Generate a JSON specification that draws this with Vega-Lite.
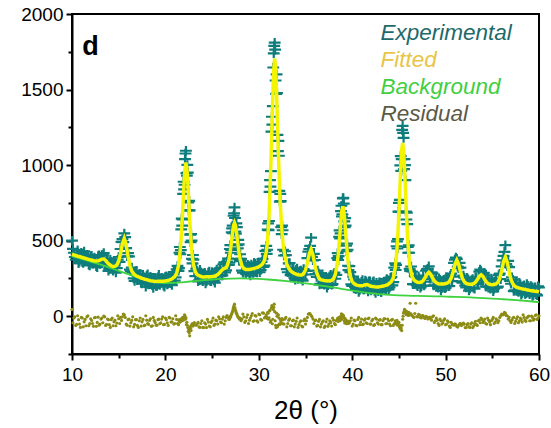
{
  "$schema": "https://vega.github.io/schema/vega-lite/v6.json",
  "width": 467,
  "height": 340,
  "autosize": {"type": "none"},
  "padding": {"left": 72, "top": 14, "right": 12, "bottom": 74},
  "background": "white",
  "config": {
    "view": {"stroke": "black", "strokeWidth": 2},
    "axis": {"domainColor": "black", "tickColor": "black", "labelColor": "black", "domainWidth": 2, "tickWidth": 2, "labelFont": "Liberation Sans", "titleFont": "Liberation Sans", "grid": false, "labelFlush": false}
  },
  "datasets": {
    "pattern": [
      {"x":10.0,"fit":410,"obs":500,"res":45},{"x":10.2,"fit":406,"obs":420,"res":-12},{"x":10.4,"fit":402,"obs":375,"res":-61},{"x":10.6,"fit":398,"obs":437,"res":3},{"x":10.8,"fit":395,"obs":361,"res":-52},
      {"x":11.0,"fit":391,"obs":420,"res":-8},{"x":11.2,"fit":387,"obs":352,"res":-70},{"x":11.4,"fit":384,"obs":401,"res":-21},{"x":11.6,"fit":380,"obs":407,"res":-4},{"x":11.8,"fit":376,"obs":340,"res":-63},
      {"x":12.0,"fit":373,"obs":398,"res":-17},{"x":12.2,"fit":369,"obs":347,"res":-48},{"x":12.4,"fit":367,"obs":389,"res":-10},{"x":12.6,"fit":366,"obs":330,"res":-67},{"x":12.8,"fit":367,"obs":398,"res":-6},
      {"x":13.0,"fit":371,"obs":345,"res":-52},{"x":13.2,"fit":378,"obs":405,"res":-12},{"x":13.4,"fit":379,"obs":418,"res":1},{"x":13.6,"fit":369,"obs":338,"res":-61},{"x":13.8,"fit":354,"obs":382,"res":-19},
      {"x":14.0,"fit":342,"obs":313,"res":-56},{"x":14.2,"fit":334,"obs":360,"res":-23},{"x":14.4,"fit":329,"obs":300,"res":-63},{"x":14.6,"fit":330,"obs":356,"res":-26},{"x":14.8,"fit":339,"obs":318,"res":-45},
      {"x":15.0,"fit":365,"obs":392,"res":-17},{"x":15.2,"fit":416,"obs":445,"res":-8},{"x":15.4,"fit":481,"obs":510,"res":-4},{"x":15.6,"fit":515,"obs":548,"res":10},{"x":15.8,"fit":472,"obs":450,"res":-52},
      {"x":16.0,"fit":397,"obs":418,"res":-23},{"x":16.2,"fit":336,"obs":308,"res":-65},{"x":16.4,"fit":299,"obs":322,"res":-28},{"x":16.6,"fit":281,"obs":250,"res":-70},{"x":16.8,"fit":270,"obs":296,"res":-23},
      {"x":17.0,"fit":263,"obs":238,"res":-61},{"x":17.2,"fit":258,"obs":280,"res":-30},{"x":17.4,"fit":253,"obs":226,"res":-65},{"x":17.6,"fit":249,"obs":275,"res":-21},{"x":17.8,"fit":245,"obs":218,"res":-59},
      {"x":18.0,"fit":242,"obs":268,"res":-26},{"x":18.2,"fit":238,"obs":210,"res":-54},{"x":18.4,"fit":235,"obs":262,"res":-17},{"x":18.6,"fit":233,"obs":205,"res":-63},{"x":18.8,"fit":231,"obs":254,"res":-28},
      {"x":19.0,"fit":230,"obs":200,"res":-59},{"x":19.2,"fit":231,"obs":258,"res":-23},{"x":19.4,"fit":231,"obs":206,"res":-50},{"x":19.6,"fit":231,"obs":255,"res":-19},{"x":19.8,"fit":232,"obs":204,"res":-56},
      {"x":20.0,"fit":234,"obs":262,"res":-12},{"x":20.2,"fit":236,"obs":210,"res":-43},{"x":20.4,"fit":239,"obs":265,"res":-8},{"x":20.6,"fit":244,"obs":218,"res":-39},{"x":20.8,"fit":252,"obs":280,"res":-17},
      {"x":21.0,"fit":262,"obs":235,"res":-48},{"x":21.2,"fit":283,"obs":310,"res":-21},{"x":21.4,"fit":334,"obs":300,"res":-56},{"x":21.5,"fit":382,"obs":420,"res":-22},{"x":21.6,"fit":445,"obs":410,"res":-35},
      {"x":21.7,"fit":531,"obs":575,"res":-18},{"x":21.8,"fit":641,"obs":600,"res":-30},{"x":21.9,"fit":758,"obs":810,"res":-12},{"x":22.0,"fit":883,"obs":840,"res":-5},{"x":22.1,"fit":977,"obs":1040,"res":2},
      {"x":22.2,"fit":1017,"obs":1095,"res":-10},{"x":22.3,"fit":978,"obs":930,"res":-40},{"x":22.4,"fit":885,"obs":950,"res":-75},{"x":22.5,"fit":761,"obs":700,"res":-90},{"x":22.6,"fit":645,"obs":700,"res":-130},
      {"x":22.7,"fit":535,"obs":490,"res":-80},{"x":22.8,"fit":451,"obs":500,"res":-60},{"x":22.9,"fit":388,"obs":350,"res":-55},{"x":23.0,"fit":343,"obs":375,"res":-48},{"x":23.2,"fit":294,"obs":265,"res":-58},
      {"x":23.4,"fit":275,"obs":300,"res":-52},{"x":23.6,"fit":268,"obs":238,"res":-70},{"x":23.8,"fit":263,"obs":290,"res":-48},{"x":24.0,"fit":260,"obs":232,"res":-74},{"x":24.2,"fit":260,"obs":288,"res":-43},
      {"x":24.4,"fit":261,"obs":230,"res":-75},{"x":24.6,"fit":261,"obs":290,"res":-39},{"x":24.8,"fit":262,"obs":233,"res":-70},{"x":25.0,"fit":263,"obs":292,"res":-30},{"x":25.2,"fit":265,"obs":236,"res":-61},
      {"x":25.4,"fit":269,"obs":296,"res":-26},{"x":25.6,"fit":276,"obs":248,"res":-52},{"x":25.8,"fit":287,"obs":315,"res":-17},{"x":26.0,"fit":302,"obs":270,"res":-43},{"x":26.2,"fit":314,"obs":344,"res":-4},
      {"x":26.4,"fit":318,"obs":290,"res":-30},{"x":26.6,"fit":331,"obs":362,"res":5},{"x":26.8,"fit":372,"obs":340,"res":-21},{"x":26.9,"fit":407,"obs":445,"res":-10},{"x":27.0,"fit":454,"obs":420,"res":-5},
      {"x":27.1,"fit":504,"obs":555,"res":15},{"x":27.2,"fit":559,"obs":600,"res":35},{"x":27.3,"fit":601,"obs":665,"res":60},{"x":27.4,"fit":618,"obs":720,"res":80},{"x":27.5,"fit":602,"obs":560,"res":40},
      {"x":27.6,"fit":562,"obs":615,"res":20},{"x":27.7,"fit":509,"obs":470,"res":5},{"x":27.8,"fit":459,"obs":505,"res":-5},{"x":27.9,"fit":413,"obs":380,"res":-15},{"x":28.0,"fit":378,"obs":410,"res":-12},
      {"x":28.2,"fit":332,"obs":302,"res":-19},{"x":28.4,"fit":315,"obs":345,"res":-4},{"x":28.6,"fit":310,"obs":282,"res":-30},{"x":28.8,"fit":310,"obs":340,"res":10},{"x":29.0,"fit":310,"obs":282,"res":-26},
      {"x":29.2,"fit":312,"obs":342,"res":3},{"x":29.4,"fit":315,"obs":286,"res":-34},{"x":29.6,"fit":318,"obs":348,"res":5},{"x":29.8,"fit":321,"obs":290,"res":-30},{"x":30.0,"fit":327,"obs":358,"res":14},
      {"x":30.2,"fit":335,"obs":305,"res":-21},{"x":30.4,"fit":346,"obs":378,"res":23},{"x":30.6,"fit":369,"obs":335,"res":-12},{"x":30.8,"fit":425,"obs":465,"res":10},{"x":30.9,"fit":481,"obs":440,"res":-15},
      {"x":31.0,"fit":565,"obs":615,"res":20},{"x":31.1,"fit":676,"obs":630,"res":-10},{"x":31.2,"fit":830,"obs":900,"res":40},{"x":31.3,"fit":1026,"obs":960,"res":-30},{"x":31.4,"fit":1236,"obs":1320,"res":70},
      {"x":31.5,"fit":1461,"obs":1390,"res":-20},{"x":31.6,"fit":1632,"obs":1740,"res":60},{"x":31.7,"fit":1706,"obs":1810,"res":30},{"x":31.8,"fit":1642,"obs":1560,"res":-60},{"x":31.9,"fit":1483,"obs":1600,"res":20},
      {"x":32.0,"fit":1272,"obs":1200,"res":-70},{"x":32.1,"fit":1074,"obs":1160,"res":10},{"x":32.2,"fit":891,"obs":830,"res":-50},{"x":32.3,"fit":747,"obs":810,"res":-20},{"x":32.4,"fit":638,"obs":590,"res":-45},
      {"x":32.5,"fit":549,"obs":600,"res":-15},{"x":32.6,"fit":480,"obs":440,"res":-50},{"x":32.8,"fit":394,"obs":430,"res":-19},{"x":33.0,"fit":344,"obs":312,"res":-70},{"x":33.2,"fit":319,"obs":350,"res":-26},
      {"x":33.4,"fit":301,"obs":272,"res":-63},{"x":33.6,"fit":291,"obs":320,"res":-30},{"x":33.8,"fit":284,"obs":255,"res":-70},{"x":34.0,"fit":279,"obs":308,"res":-34},{"x":34.2,"fit":274,"obs":246,"res":-74},
      {"x":34.4,"fit":272,"obs":300,"res":-39},{"x":34.6,"fit":272,"obs":244,"res":-65},{"x":34.8,"fit":282,"obs":312,"res":-30},{"x":35.0,"fit":306,"obs":276,"res":-52},{"x":35.2,"fit":353,"obs":385,"res":-8},
      {"x":35.4,"fit":411,"obs":445,"res":18},{"x":35.6,"fit":442,"obs":520,"res":5},{"x":35.8,"fit":405,"obs":370,"res":-19},{"x":36.0,"fit":340,"obs":372,"res":-30},{"x":36.2,"fit":288,"obs":260,"res":-65},
      {"x":36.4,"fit":257,"obs":285,"res":-34},{"x":36.6,"fit":242,"obs":214,"res":-70},{"x":36.8,"fit":239,"obs":265,"res":-39},{"x":37.0,"fit":236,"obs":208,"res":-74},{"x":37.2,"fit":234,"obs":262,"res":-37},
      {"x":37.4,"fit":233,"obs":205,"res":-67},{"x":37.6,"fit":234,"obs":262,"res":-30},{"x":37.8,"fit":237,"obs":208,"res":-65},{"x":38.0,"fit":248,"obs":278,"res":-26},{"x":38.2,"fit":278,"obs":248,"res":-56},
      {"x":38.4,"fit":350,"obs":385,"res":-20},{"x":38.5,"fit":407,"obs":372,"res":-35},{"x":38.6,"fit":479,"obs":525,"res":-10},{"x":38.7,"fit":557,"obs":515,"res":-30},{"x":38.8,"fit":640,"obs":695,"res":0},
      {"x":38.9,"fit":702,"obs":660,"res":-20},{"x":39.0,"fit":727,"obs":780,"res":10},{"x":39.1,"fit":700,"obs":745,"res":-5},{"x":39.2,"fit":637,"obs":590,"res":-45},{"x":39.3,"fit":552,"obs":600,"res":-25},
      {"x":39.4,"fit":472,"obs":430,"res":-50},{"x":39.5,"fit":399,"obs":440,"res":-30},{"x":39.6,"fit":340,"obs":305,"res":-48},{"x":39.8,"fit":264,"obs":292,"res":-30},{"x":40.0,"fit":229,"obs":200,"res":-65},
      {"x":40.2,"fit":216,"obs":244,"res":-26},{"x":40.4,"fit":208,"obs":180,"res":-61},{"x":40.6,"fit":204,"obs":232,"res":-21},{"x":40.8,"fit":201,"obs":174,"res":-56},{"x":41.0,"fit":201,"obs":228,"res":-19},
      {"x":41.2,"fit":204,"obs":176,"res":-52},{"x":41.4,"fit":208,"obs":236,"res":-17},{"x":41.6,"fit":209,"obs":182,"res":-48},{"x":41.8,"fit":205,"obs":232,"res":-12},{"x":42.0,"fit":198,"obs":170,"res":-52},
      {"x":42.2,"fit":197,"obs":225,"res":-21},{"x":42.4,"fit":195,"obs":166,"res":-56},{"x":42.6,"fit":194,"obs":222,"res":-19},{"x":42.8,"fit":194,"obs":165,"res":-52},{"x":43.0,"fit":196,"obs":224,"res":-23},
      {"x":43.2,"fit":198,"obs":170,"res":-56},{"x":43.4,"fit":201,"obs":230,"res":-17},{"x":43.6,"fit":204,"obs":176,"res":-50},{"x":43.8,"fit":209,"obs":238,"res":-19},{"x":44.0,"fit":218,"obs":190,"res":-52},
      {"x":44.2,"fit":230,"obs":260,"res":-26},{"x":44.4,"fit":255,"obs":225,"res":-61},{"x":44.6,"fit":317,"obs":350,"res":-30},{"x":44.7,"fit":375,"obs":340,"res":-46},{"x":44.8,"fit":451,"obs":495,"res":-28},
      {"x":44.9,"fit":555,"obs":510,"res":-55},{"x":45.0,"fit":689,"obs":750,"res":-40},{"x":45.1,"fit":832,"obs":770,"res":-75},{"x":45.2,"fit":985,"obs":1060,"res":-60},{"x":45.3,"fit":1099,"obs":1040,"res":-95},
      {"x":45.4,"fit":1147,"obs":1260,"res":-20},{"x":45.5,"fit":1100,"obs":1180,"res":20},{"x":45.6,"fit":986,"obs":1040,"res":45},{"x":45.7,"fit":835,"obs":900,"res":35},{"x":45.8,"fit":692,"obs":640,"res":10},
      {"x":45.9,"fit":560,"obs":610,"res":25},{"x":46.0,"fit":457,"obs":420,"res":5},{"x":46.1,"fit":381,"obs":420,"res":20},{"x":46.2,"fit":325,"obs":300,"res":86},{"x":46.4,"fit":264,"obs":296,"res":5},
      {"x":46.6,"fit":241,"obs":212,"res":-8},{"x":46.8,"fit":231,"obs":262,"res":86},{"x":47.0,"fit":225,"obs":198,"res":-5},{"x":47.2,"fit":223,"obs":252,"res":10},{"x":47.4,"fit":226,"obs":198,"res":-12},
      {"x":47.6,"fit":236,"obs":266,"res":2},{"x":47.8,"fit":255,"obs":228,"res":-15},{"x":48.0,"fit":278,"obs":310,"res":-5},{"x":48.2,"fit":291,"obs":330,"res":-10},{"x":48.4,"fit":277,"obs":248,"res":-19},
      {"x":48.6,"fit":253,"obs":284,"res":-4},{"x":48.8,"fit":233,"obs":205,"res":-41},{"x":49.0,"fit":222,"obs":250,"res":-12},{"x":49.2,"fit":215,"obs":188,"res":-48},{"x":49.4,"fit":214,"obs":242,"res":-19},
      {"x":49.6,"fit":214,"obs":186,"res":-52},{"x":49.8,"fit":214,"obs":242,"res":-26},{"x":50.0,"fit":216,"obs":188,"res":-56},{"x":50.2,"fit":220,"obs":248,"res":-30},{"x":50.4,"fit":229,"obs":200,"res":-65},
      {"x":50.6,"fit":252,"obs":282,"res":-41},{"x":50.8,"fit":293,"obs":262,"res":-55},{"x":51.0,"fit":344,"obs":375,"res":-50},{"x":51.2,"fit":372,"obs":380,"res":-68},{"x":51.4,"fit":344,"obs":318,"res":-60},
      {"x":51.6,"fit":292,"obs":322,"res":-48},{"x":51.8,"fit":251,"obs":222,"res":-55},{"x":52.0,"fit":228,"obs":256,"res":-52},{"x":52.2,"fit":217,"obs":190,"res":-75},{"x":52.4,"fit":213,"obs":240,"res":-48},
      {"x":52.6,"fit":212,"obs":184,"res":-74},{"x":52.8,"fit":212,"obs":240,"res":-43},{"x":53.0,"fit":216,"obs":188,"res":-65},{"x":53.2,"fit":225,"obs":254,"res":-34},{"x":53.4,"fit":242,"obs":214,"res":-61},
      {"x":53.6,"fit":264,"obs":295,"res":-26},{"x":53.8,"fit":274,"obs":300,"res":-12},{"x":54.0,"fit":263,"obs":236,"res":-41},{"x":54.2,"fit":241,"obs":270,"res":-19},{"x":54.4,"fit":224,"obs":196,"res":-52},
      {"x":54.6,"fit":214,"obs":242,"res":-26},{"x":54.8,"fit":210,"obs":182,"res":-56},{"x":55.0,"fit":209,"obs":238,"res":-21},{"x":55.2,"fit":210,"obs":182,"res":-48},{"x":55.4,"fit":214,"obs":242,"res":-17},
      {"x":55.6,"fit":225,"obs":196,"res":-43},{"x":55.8,"fit":252,"obs":282,"res":-8},{"x":56.0,"fit":299,"obs":330,"res":14},{"x":56.2,"fit":361,"obs":400,"res":10},{"x":56.4,"fit":392,"obs":470,"res":20},
      {"x":56.6,"fit":358,"obs":330,"res":3},{"x":56.8,"fit":295,"obs":325,"res":-8},{"x":57.0,"fit":243,"obs":215,"res":-41},{"x":57.2,"fit":214,"obs":242,"res":-12},{"x":57.4,"fit":199,"obs":172,"res":-48},
      {"x":57.6,"fit":192,"obs":220,"res":-17},{"x":57.8,"fit":188,"obs":160,"res":-43},{"x":58.0,"fit":184,"obs":212,"res":-12},{"x":58.2,"fit":181,"obs":154,"res":-39},{"x":58.4,"fit":178,"obs":205,"res":-8},
      {"x":58.6,"fit":176,"obs":150,"res":-34},{"x":58.8,"fit":174,"obs":202,"res":-4},{"x":59.0,"fit":171,"obs":145,"res":-30},{"x":59.2,"fit":169,"obs":196,"res":1},{"x":59.4,"fit":167,"obs":140,"res":-26},
      {"x":59.6,"fit":165,"obs":192,"res":5},{"x":59.8,"fit":164,"obs":138,"res":-21},{"x":60.0,"fit":162,"obs":190,"res":3}
    ],
    "extra": [
      {"x":10.1,"obs":446,"res":-43},{"x":10.3,"obs":392,"res":-4},{"x":10.5,"obs":405,"res":-54},{"x":10.7,"obs":351,"res":-23},{"x":10.9,"obs":415,"res":-74},
      {"x":11.1,"obs":359,"res":-12},{"x":11.3,"obs":429,"res":-37},{"x":11.5,"obs":374,"res":-63},{"x":11.7,"obs":393,"res":3},{"x":11.9,"obs":336,"res":-48},
      {"x":12.1,"obs":401,"res":-28},{"x":12.3,"obs":348,"res":-67},{"x":12.5,"obs":368,"res":-8},{"x":12.7,"obs":324,"res":-41},{"x":12.9,"obs":404,"res":-59},
      {"x":13.1,"obs":359,"res":-19},{"x":13.3,"obs":403,"res":-43},{"x":13.5,"obs":339,"res":-4},{"x":13.7,"obs":371,"res":-54},{"x":13.9,"obs":300,"res":-23},
      {"x":14.1,"obs":376,"res":-74},{"x":14.3,"obs":319,"res":-12},{"x":14.5,"obs":334,"res":-37},{"x":14.7,"obs":289,"res":-63},{"x":14.9,"obs":374,"res":3},
      {"x":15.1,"obs":360,"res":-48},{"x":15.3,"obs":492,"res":-28},{"x":15.5,"obs":490,"res":14},{"x":15.7,"obs":523,"res":-8},{"x":15.9,"obs":396,"res":-59},
      {"x":16.1,"obs":396,"res":-19},{"x":16.3,"obs":297,"res":-43},{"x":16.5,"obs":292,"res":-4},{"x":16.7,"obs":233,"res":-54},{"x":16.9,"obs":301,"res":-23},
      {"x":17.1,"obs":245,"res":-74},{"x":17.3,"obs":280,"res":-12},{"x":17.5,"obs":216,"res":-37},{"x":17.7,"obs":257,"res":-63},{"x":17.9,"obs":195,"res":3},
      {"x":18.1,"obs":278,"res":-48},{"x":18.3,"obs":224,"res":-28},{"x":18.5,"obs":239,"res":-67},{"x":18.7,"obs":187,"res":-8},{"x":18.9,"obs":252,"res":-41},
      {"x":19.1,"obs":200,"res":-59},{"x":19.3,"obs":275,"res":-19},{"x":19.5,"obs":223,"res":-43},{"x":19.7,"obs":246,"res":-4},{"x":19.9,"obs":195,"res":-54},
      {"x":20.1,"obs":265,"res":-23},{"x":20.3,"obs":217,"res":-61},{"x":20.5,"obs":243,"res":-12},{"x":20.7,"obs":206,"res":-37},{"x":20.9,"obs":292,"res":-52},
      {"x":21.1,"obs":257,"res":3},{"x":21.3,"obs":333,"res":-48},{"x":21.45,"obs":318,"res":-29},{"x":21.55,"obs":458,"res":-40},{"x":21.65,"obs":438,"res":-20},
      {"x":21.75,"obs":646,"res":-28},{"x":21.85,"obs":640,"res":-8},{"x":21.95,"obs":890,"res":-25},{"x":22.05,"obs":870,"res":10},{"x":22.15,"obs":1077,"res":-20},
      {"x":22.25,"obs":947,"res":-55},{"x":22.35,"obs":1001,"res":-60},{"x":22.45,"obs":753,"res":-100},{"x":22.55,"obs":763,"res":-110},{"x":22.65,"obs":540,"res":-70},
      {"x":22.75,"obs":543,"res":-95},{"x":22.85,"obs":380,"res":-50},{"x":22.95,"obs":405,"res":-65},
      {"x":23.1,"obs":298,"res":-42},{"x":23.3,"obs":314,"res":-60},{"x":23.5,"obs":231,"res":-41},{"x":23.7,"obs":307,"res":-74},{"x":23.9,"obs":249,"res":-30},
      {"x":24.1,"obs":280,"res":-75},{"x":24.3,"obs":216,"res":-52},{"x":24.5,"obs":269,"res":-21},{"x":24.7,"obs":296,"res":-65},{"x":24.9,"obs":232,"res":-41},
      {"x":25.1,"obs":279,"res":-12},{"x":25.3,"obs":222,"res":-52},{"x":25.5,"obs":310,"res":-30},{"x":25.7,"obs":271,"res":-4},{"x":25.9,"obs":319,"res":-39},
      {"x":26.1,"obs":270,"res":-19},{"x":26.3,"obs":356,"res":-52},{"x":26.5,"obs":304,"res":-8},{"x":26.7,"obs":381,"res":-8},
      {"x":26.85,"obs":354,"res":-20},{"x":26.95,"obs":470,"res":0},{"x":27.05,"obs":439,"res":10},{"x":27.15,"obs":581,"res":25},{"x":27.25,"obs":550,"res":50},
      {"x":27.35,"obs":680,"res":70},{"x":27.45,"obs":650,"res":55},{"x":27.55,"obs":547,"res":30},{"x":27.65,"obs":590,"res":15},{"x":27.75,"obs":449,"res":-2},
      {"x":27.85,"obs":476,"res":-10},{"x":27.95,"obs":365,"res":-20},
      {"x":28.1,"obs":380,"res":-30},{"x":28.3,"obs":288,"res":14},{"x":28.5,"obs":352,"res":-41},{"x":28.7,"obs":295,"res":-8},{"x":28.9,"obs":335,"res":-48},
      {"x":29.1,"obs":269,"res":-12},{"x":29.3,"obs":323,"res":18},{"x":29.5,"obs":354,"res":-30},{"x":29.7,"obs":294,"res":1},{"x":29.9,"obs":354,"res":-39},
      {"x":30.1,"obs":291,"res":10},{"x":30.3,"obs":360,"res":-26},{"x":30.5,"obs":327,"res":20},{"x":30.7,"obs":432,"res":-4},
      {"x":30.85,"obs":413,"res":-5},{"x":30.95,"obs":573,"res":25},{"x":31.05,"obs":570,"res":-20},{"x":31.15,"obs":823,"res":35},{"x":31.25,"obs":858,"res":-40},
      {"x":31.35,"obs":1221,"res":55},{"x":31.45,"obs":1268,"res":-50},{"x":31.55,"obs":1646,"res":45},{"x":31.65,"obs":1789,"res":80},{"x":31.75,"obs":1764,"res":-30},
      {"x":31.85,"obs":1472,"res":-75},{"x":31.95,"obs":1477,"res":0},{"x":32.05,"obs":1093,"res":-60},{"x":32.15,"obs":1062,"res":-10},{"x":32.25,"obs":759,"res":-55},
      {"x":32.35,"obs":762,"res":-30},{"x":32.45,"obs":543,"res":-50},{"x":32.55,"obs":569,"res":-25},
      {"x":32.7,"obs":402,"res":-52},{"x":32.9,"obs":404,"res":-8},{"x":33.1,"obs":291,"res":-48},{"x":33.3,"obs":352,"res":-17},{"x":33.5,"obs":286,"res":-63},
      {"x":33.7,"obs":312,"res":-26},{"x":33.9,"obs":241,"res":-52},{"x":34.1,"obs":316,"res":-12},{"x":34.3,"obs":258,"res":-56},{"x":34.5,"obs":302,"res":-30},
      {"x":34.7,"obs":235,"res":-70},{"x":34.9,"obs":304,"res":-19},{"x":35.1,"obs":300,"res":-30},{"x":35.3,"obs":427,"res":14},{"x":35.5,"obs":466,"res":15},
      {"x":35.7,"obs":393,"res":-4},{"x":35.9,"obs":412,"res":-48},{"x":36.1,"obs":279,"res":-26},{"x":36.3,"obs":302,"res":-61},{"x":36.5,"obs":209,"res":-21},
      {"x":36.7,"obs":275,"res":-52},{"x":36.9,"obs":225,"res":-30},{"x":37.1,"obs":260,"res":-65},{"x":37.3,"obs":189,"res":-19},{"x":37.5,"obs":248,"res":-52},
      {"x":37.7,"obs":275,"res":-41},{"x":37.9,"obs":212,"res":-12},{"x":38.1,"obs":288,"res":-48},{"x":38.3,"obs":274,"res":-30},
      {"x":38.45,"obs":418,"res":-12},{"x":38.55,"obs":398,"res":-28},{"x":38.65,"obs":568,"res":-5},{"x":38.75,"obs":548,"res":-22},{"x":38.85,"obs":731,"res":15},
      {"x":38.95,"obs":674,"res":-10},{"x":39.05,"obs":783,"res":5},{"x":39.15,"obs":628,"res":-30},{"x":39.25,"obs":649,"res":-15},{"x":39.35,"obs":467,"res":-40},
      {"x":39.45,"obs":480,"res":-35},{"x":39.55,"obs":334,"res":-42},
      {"x":39.7,"obs":332,"res":-43},{"x":39.9,"obs":211,"res":-12},{"x":40.1,"obs":262,"res":-52},{"x":40.3,"obs":192,"res":-30},{"x":40.5,"obs":231,"res":-63},
      {"x":40.7,"obs":160,"res":-8},{"x":40.9,"obs":213,"res":-39},{"x":41.1,"obs":240,"res":-56},{"x":41.3,"obs":176,"res":-26},{"x":41.5,"obs":228,"res":-43},
      {"x":41.7,"obs":163,"res":-17},{"x":41.9,"obs":231,"res":-52},{"x":42.1,"obs":179,"res":-30},{"x":42.3,"obs":232,"res":-61},{"x":42.5,"obs":154,"res":-12},
      {"x":42.7,"obs":204,"res":-43},{"x":42.9,"obs":225,"res":-26},{"x":43.1,"obs":159,"res":-56},{"x":43.3,"obs":224,"res":-30},{"x":43.5,"obs":182,"res":-17},
      {"x":43.7,"obs":246,"res":-48},{"x":43.9,"obs":178,"res":-30},{"x":44.1,"obs":254,"res":-63},{"x":44.3,"obs":204,"res":-21},{"x":44.5,"obs":321,"res":-48},
      {"x":44.65,"obs":306,"res":-50},{"x":44.75,"obs":463,"res":-35},{"x":44.85,"obs":448,"res":-60},{"x":44.95,"obs":692,"res":-48},{"x":45.05,"obs":690,"res":-70},
      {"x":45.15,"obs":998,"res":-85},{"x":45.25,"obs":962,"res":-78},{"x":45.35,"obs":1233,"res":-60},{"x":45.45,"obs":1213,"res":0},{"x":45.55,"obs":973,"res":30},
      {"x":45.65,"obs":1000,"res":40},{"x":45.75,"obs":693,"res":20},{"x":45.85,"obs":686,"res":30},{"x":45.95,"obs":458,"res":12},{"x":46.05,"obs":469,"res":25},
      {"x":46.15,"obs":313,"res":8},
      {"x":46.3,"obs":329,"res":15},{"x":46.5,"obs":212,"res":0},{"x":46.7,"obs":266,"res":18},{"x":46.9,"obs":208,"res":-2},{"x":47.1,"obs":264,"res":12},
      {"x":47.3,"obs":189,"res":-8},{"x":47.5,"obs":246,"res":5},{"x":47.7,"obs":203,"res":-10},{"x":47.9,"obs":301,"res":0},{"x":48.1,"obs":314,"res":-18},
      {"x":48.3,"obs":249,"res":-5},{"x":48.5,"obs":290,"res":-26},{"x":48.7,"obs":203,"res":3},{"x":48.9,"obs":257,"res":-30},{"x":49.1,"obs":203,"res":-26},
      {"x":49.3,"obs":252,"res":-61},{"x":49.5,"obs":170,"res":-30},{"x":49.7,"obs":234,"res":-43},{"x":49.9,"obs":185,"res":-17},{"x":50.1,"obs":258,"res":-52},
      {"x":50.3,"obs":199,"res":-39},{"x":50.5,"obs":270,"res":-74},{"x":50.7,"obs":232,"res":-56},{"x":50.9,"obs":353,"res":-60},{"x":51.1,"obs":388,"res":-55},
      {"x":51.3,"obs":328,"res":-72},{"x":51.5,"obs":353,"res":-50},{"x":51.7,"obs":231,"res":-62},{"x":51.9,"obs":269,"res":-45},{"x":52.1,"obs":202,"res":-75},
      {"x":52.3,"obs":255,"res":-56},{"x":52.5,"obs":170,"res":-70},{"x":52.7,"obs":227,"res":-52},{"x":52.9,"obs":246,"res":-75},{"x":53.1,"obs":182,"res":-48},
      {"x":53.3,"obs":258,"res":-56},{"x":53.5,"obs":223,"res":-30},{"x":53.7,"obs":309,"res":-43},{"x":53.9,"obs":238,"res":-21},{"x":54.1,"obs":287,"res":-34},
      {"x":54.3,"obs":197,"res":-48},{"x":54.5,"obs":249,"res":-12},{"x":54.7,"obs":192,"res":-39},{"x":54.9,"obs":249,"res":-30},{"x":55.1,"obs":165,"res":-8},
      {"x":55.3,"obs":232,"res":-39},{"x":55.5,"obs":189,"res":-26},{"x":55.7,"obs":273,"res":-30},{"x":55.9,"obs":245,"res":3},{"x":56.1,"obs":370,"res":10},
      {"x":56.3,"obs":426,"res":25},{"x":56.5,"obs":345,"res":5},{"x":56.7,"obs":366,"res":-19},{"x":56.9,"obs":234,"res":-30},{"x":57.1,"obs":258,"res":-26},
      {"x":57.3,"obs":166,"res":-8},{"x":57.5,"obs":220,"res":-34},{"x":57.7,"obs":170,"res":-4},{"x":57.9,"obs":221,"res":-30},{"x":58.1,"obs":142,"res":-21},
      {"x":58.3,"obs":199,"res":10},{"x":58.5,"obs":147,"res":-26},{"x":58.7,"obs":213,"res":-12},{"x":58.9,"obs":157,"res":1},{"x":59.1,"obs":200,"res":-30},
      {"x":59.3,"obs":133,"res":-8},{"x":59.5,"obs":191,"res":-19},{"x":59.7,"obs":144,"res":10},{"x":59.9,"obs":198,"res":-12}
    ],
    "bg": [
      {"x":10,"bg":398},{"x":11,"bg":380},{"x":12,"bg":362},{"x":13,"bg":343},{"x":14,"bg":322},{"x":15,"bg":300},{"x":16,"bg":279},{"x":17,"bg":259},{"x":18,"bg":240},{"x":19,"bg":226},
      {"x":20,"bg":220},{"x":21,"bg":221},{"x":22,"bg":226},{"x":23,"bg":232},{"x":24,"bg":238},{"x":25,"bg":243},{"x":26,"bg":247},{"x":27,"bg":249},{"x":28,"bg":250},{"x":29,"bg":249},
      {"x":30,"bg":247},{"x":31,"bg":243},{"x":32,"bg":238},{"x":33,"bg":232},{"x":34,"bg":225},{"x":35,"bg":218},{"x":36,"bg":209},{"x":37,"bg":200},{"x":38,"bg":190},{"x":39,"bg":180},
      {"x":40,"bg":170},{"x":41,"bg":161},{"x":42,"bg":152},{"x":43,"bg":146},{"x":44,"bg":141},{"x":45,"bg":138},{"x":46,"bg":136},{"x":47,"bg":134},{"x":48,"bg":133},{"x":49,"bg":132},
      {"x":50,"bg":130},{"x":51,"bg":128},{"x":52,"bg":126},{"x":53,"bg":123},{"x":54,"bg":120},{"x":55,"bg":117},{"x":56,"bg":113},{"x":57,"bg":109},{"x":58,"bg":104},{"x":59,"bg":99},{"x":60,"bg":93}
    ]
  },
  "resolve": {"axis": {"x": "independent", "y": "independent"}},
  "layer": [
    {
      "data": {"name": "pattern"},
      "mark": {"type": "point", "shape": "M-1,0H1M0,-0.8V0.8", "filled": false, "size": 140, "strokeWidth": 2.2, "opacity": 1},
      "encoding": {
        "x": {"field": "x", "type": "quantitative", "scale": {"domain": [10, 60], "nice": false, "zero": false},
              "axis": {"orient": "bottom", "values": [10, 20, 30, 40, 50, 60], "format": "d", "tickSize": 6, "labelFontSize": 19, "labelPadding": 5, "labelFlush": false, "title": "2θ (°)", "titleFontSize": 26, "titleFontWeight": "normal", "titlePadding": 13}},
        "y": {"field": "obs", "type": "quantitative", "scale": {"domain": [-250, 2000], "nice": false, "zero": false},
              "axis": {"orient": "left", "values": [0, 500, 1000, 1500, 2000], "format": "d", "tickSize": 6, "labelFontSize": 19, "labelPadding": 3, "labelFlush": false, "title": null}},
        "color": {"datum": "Experimental", "type": "nominal",
                  "scale": {"domain": ["Experimental", "Fitted", "Background", "Residual"], "range": ["#0e7d7c", "#f4f400", "#3fd23f", "#8c8c14"]},
                  "legend": {"orient": "none", "legendX": 286, "legendY": 8, "title": null, "symbolOpacity": 0, "symbolSize": 0, "symbolStrokeWidth": 0, "labelOffset": 0,
                             "labelFont": "Liberation Sans", "labelFontSize": 22.5, "labelFontStyle": "italic", "rowPadding": 4, "labelLimit": 300,
                             "labelColor": {"expr": "datum.value === 'Experimental' ? '#1d6a6a' : datum.value === 'Fitted' ? '#e8c447' : datum.value === 'Background' ? '#3fcf3f' : '#5b5a45'"}}}
      }
    },
    {
      "data": {"name": "extra"},
      "mark": {"type": "point", "shape": "M-1,0H1M0,-0.8V0.8", "filled": false, "size": 140, "strokeWidth": 2.2, "opacity": 1},
      "encoding": {
        "x": {"field": "x", "type": "quantitative", "axis": null},
        "y": {"field": "obs", "type": "quantitative", "axis": null},
        "color": {"datum": "Experimental", "type": "nominal"}
      }
    },
    {
      "data": {"name": "bg"},
      "mark": {"type": "line", "strokeWidth": 1.8, "interpolate": "monotone"},
      "encoding": {
        "x": {"field": "x", "type": "quantitative", "axis": {"orient": "bottom", "values": [15, 25, 35, 45, 55], "tickSize": 4, "labels": false, "domain": false, "title": null}},
        "y": {"field": "bg", "type": "quantitative", "axis": {"orient": "left", "values": [-250, 250, 750, 1250, 1750], "tickSize": 4, "labels": false, "domain": false, "title": null}},
        "color": {"datum": "Background", "type": "nominal"}
      }
    },
    {
      "data": {"name": "pattern"},
      "mark": {"type": "line", "strokeWidth": 3.5},
      "encoding": {
        "x": {"field": "x", "type": "quantitative", "axis": null},
        "y": {"field": "fit", "type": "quantitative", "axis": null},
        "color": {"datum": "Fitted", "type": "nominal"}
      }
    },
    {
      "data": {"name": "pattern"},
      "mark": {"type": "circle", "size": 10, "opacity": 1},
      "encoding": {
        "x": {"field": "x", "type": "quantitative", "axis": null},
        "y": {"field": "res", "type": "quantitative", "axis": null},
        "color": {"datum": "Residual", "type": "nominal"}
      }
    },
    {
      "data": {"name": "extra"},
      "mark": {"type": "circle", "size": 10, "opacity": 1},
      "encoding": {
        "x": {"field": "x", "type": "quantitative", "axis": null},
        "y": {"field": "res", "type": "quantitative", "axis": null},
        "color": {"datum": "Residual", "type": "nominal"}
      }
    },
    {
      "data": {"values": [{}]},
      "mark": {"type": "text", "text": "d", "font": "Liberation Sans", "fontSize": 27, "fontWeight": "bold", "align": "left", "baseline": "alphabetic", "color": "black"},
      "encoding": {
        "x": {"datum": 11.1, "type": "quantitative", "axis": null},
        "y": {"datum": 1729, "type": "quantitative", "axis": null}
      }
    }
  ]
}
